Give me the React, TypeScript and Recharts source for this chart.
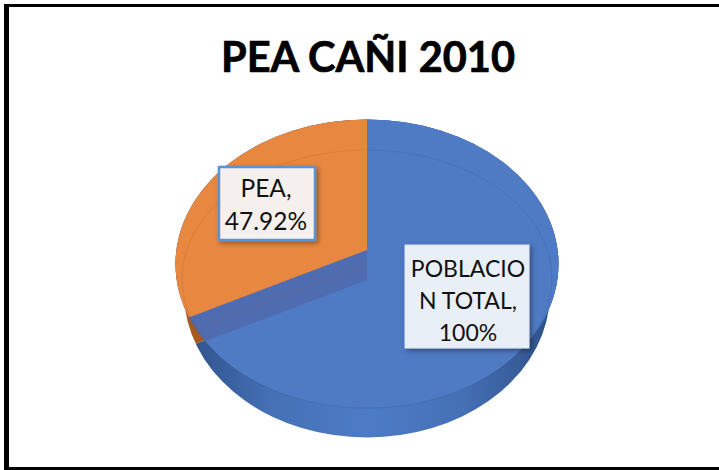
import { PieChart, Pie, Sector } from "recharts";

const categories = ["POBLACION TOTAL", "PEA"];
const values = [100, 47.92];
const labelLines = [
  ["POBLACIO", "N TOTAL,", "100%"],
  ["PEA,", "47.92%"],
];
const data = categories.map((name, i) => ({ name, value: values[i] }));

const CX = 367;
const CY = 264;
const RX = 191.5;
const RY = 144.5;
const BOTTOM_RX = 183;
const DEPTH = 29;
const TILT = 0.755;
const BIG_R = 320;
const FONT = "Lato, 'Open Sans', sans-serif";

// the picture is a 3D pie, so each slice has its own tip height
const topTips = [280, 250];
const wallTips = [279, 279];
const topFills = ["#4f7ac4", "#e8873f"];
const wallFills = ["url(#wallBlue)", "#a65a22"];
const bandFills = ["#506cb0", "#506cb0"];

const boxes = [
  { x: 405, y: 245, w: 124, h: 103, fill: "#e9eff7", stroke: "#dbe5f3", sw: 1, first: 277, step: 32, mid: 468, font: 23 },
  { x: 219, y: 167, w: 96, h: 73, fill: "#f5f0ed", stroke: "#5b92cf", sw: 2.5, first: 197, step: 33, mid: 266, font: 24.5 },
];

const tilted = (cy: number, start: number, end: number, fill: string, clip: string) => (
  <g clipPath={`url(#${clip})`}>
    <g transform={`translate(${CX} ${cy}) scale(1 ${TILT}) translate(${-CX} ${-cy})`}>
      <Sector
        cx={CX}
        cy={cy}
        innerRadius={0}
        outerRadius={BIG_R}
        startAngle={start}
        endAngle={end}
        fill={fill}
        stroke="none"
      />
    </g>
  </g>
);

const sliceShape = (tips: number[], fills: string[], clip: string) => (props: any) => {
  const i = props.index ?? (props.name === categories[0] ? 0 : 1);
  return tilted(tips[i], props.startAngle, props.endAngle, fills[i], clip);
};

// top slices, the last one also carries the faint inner rim
const topShape = (props: any) => {
  const i = props.index ?? (props.name === categories[0] ? 0 : 1);
  return (
    <g>
      {tilted(topTips[i], props.startAngle, props.endAngle, topFills[i], "topClip")}
      {i === 1 && <ellipse cx={CX} cy={279} rx={185} ry={129} fill="none" stroke="#000" strokeOpacity={0.07} />}
    </g>
  );
};

const boxLabel = (props: any) => {
  const i = props.index;
  const b = boxes[i];
  return (
    <g key={i}>
      <rect x={b.x} y={b.y} width={b.w} height={b.h} fill={b.fill} stroke={b.stroke} strokeWidth={b.sw} filter="url(#boxShadow)" />
      {labelLines[i].map((line, j) => (
        <text key={line} x={b.mid} y={b.first + j * b.step} textAnchor="middle" fontFamily={FONT} fontSize={b.font} fill="#111">
          {line}
        </text>
      ))}
    </g>
  );
};

export default function App() {
  return (
    <div style={{ position: "absolute", left: 0, top: 0, width: 719, height: 470, background: "#fff", overflow: "hidden" }}>
      <div
        style={{
          position: "absolute",
          left: 4,
          top: 4,
          width: 715,
          height: 466,
          boxSizing: "border-box",
          borderTop: "3px solid #000",
          borderLeft: "5px solid #000",
          borderBottom: "3px solid #000",
        }}
      />
      <PieChart width={719} height={470} margin={{ top: 0, right: 0, bottom: 0, left: 0 }}>
        <defs>
          <linearGradient id="wallBlue" gradientUnits="userSpaceOnUse" x1={CX - RX} x2={CX + RX} y1={0} y2={0}>
            <stop offset="0" stopColor="#2c4f86" />
            <stop offset="0.25" stopColor="#4570b5" />
            <stop offset="0.5" stopColor="#4d7bc6" />
            <stop offset="0.75" stopColor="#4570b5" />
            <stop offset="1" stopColor="#2c4f86" />
          </linearGradient>
          <clipPath id="topClip">
            <ellipse cx={CX} cy={CY} rx={RX} ry={RY} />
          </clipPath>
          <clipPath id="hullClip">
            <ellipse cx={CX} cy={CY} rx={RX} ry={RY} />
            <ellipse cx={CX} cy={CY + DEPTH} rx={BOTTOM_RX} ry={RY} />
            <polygon
              points={`${CX - RX},${CY} ${CX + RX},${CY} ${CX + BOTTOM_RX},${CY + DEPTH} ${CX - BOTTOM_RX},${CY + DEPTH}`}
            />
          </clipPath>
          <filter id="boxShadow" x="-15%" y="-15%" width="135%" height="135%">
            <feDropShadow dx={2} dy={2} stdDeviation={2.5} floodColor="#000" floodOpacity={0.4} />
          </filter>
        </defs>
        <text
          x={368}
          y={72}
          textAnchor="middle"
          fontFamily={FONT}
          fontWeight={700}
          fontSize={41.5}
          fill="#000"
          stroke="#000"
          strokeWidth={0.7}
        >
          PEA CAÑI 2010
        </text>
        <Pie
          data={data}
          dataKey="value"
          nameKey="name"
          cx={CX}
          cy={CY}
          outerRadius={RX}
          startAngle={90}
          endAngle={-270}
          isAnimationActive={false}
          stroke="none"
          labelLine={false}
          shape={sliceShape(wallTips, wallFills, "hullClip")}
        />
        <Pie
          data={data}
          dataKey="value"
          nameKey="name"
          cx={CX}
          cy={CY}
          outerRadius={RX}
          startAngle={90}
          endAngle={-270}
          isAnimationActive={false}
          stroke="none"
          labelLine={false}
          shape={sliceShape(bandFills.map(() => CY), bandFills, "topClip")}
        />
        <Pie
          data={data}
          dataKey="value"
          nameKey="name"
          cx={CX}
          cy={CY}
          outerRadius={RX}
          startAngle={90}
          endAngle={-270}
          isAnimationActive={false}
          stroke="none"
          labelLine={false}
          label={boxLabel}
          shape={topShape}
        />
      </PieChart>
    </div>
  );
}
